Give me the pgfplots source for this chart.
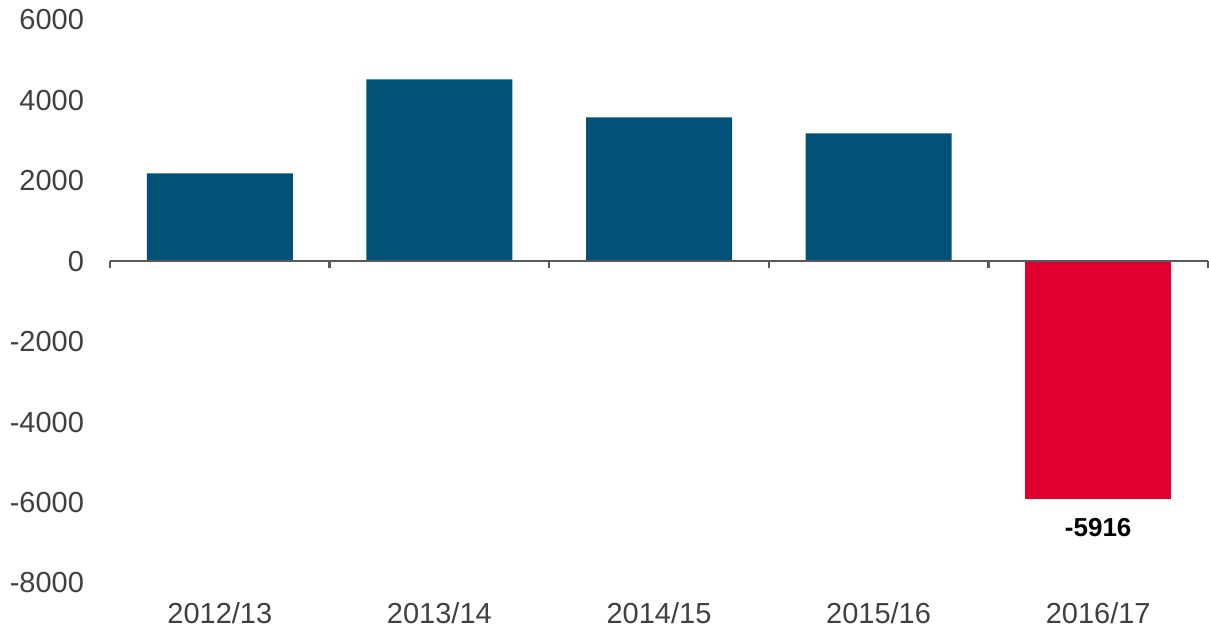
\documentclass[border=0pt]{standalone}
\usepackage{pgfplots}
\pgfplotsset{compat=1.18}
\usepackage{fontspec}
\setmainfont{Liberation Sans}
\definecolor{barblue}{RGB}{2,82,119}
\definecolor{barred}{RGB}{223,0,48}
\definecolor{txtgray}{RGB}{64,64,64}
\definecolor{axgray}{RGB}{89,89,89}
\begin{document}
\begin{tikzpicture}
\begin{axis}[
  scale only axis,
  width=549pt, height=281.5pt,
  xmin=-0.5, xmax=4.5,
  ymin=-8000, ymax=6000,
  axis line style={draw=none},
  xtick={0,1,2,3,4},
  xticklabels={2012/13,2013/14,2014/15,2015/16,2016/17},
  ytick={-8000,-6000,-4000,-2000,0,2000,4000,6000},
  major tick length=0pt,
  tick label style={font=\fontsize{14.5}{16}\selectfont, text=txtgray},
  /pgf/number format/assume math mode=true,
  /pgf/number format/1000 sep={},
  scaled y ticks=false,
  xticklabel style={yshift=-6pt},
  yticklabel style={xshift=-9.5pt},
  ybar, bar width=73pt,
  clip=false,
]
\addplot[fill=barblue, draw=none, bar shift=0pt] coordinates {(0,2186) (1,4522) (2,3578) (3,3180)};
\addplot[fill=barred, draw=none, bar shift=0pt,
  nodes near coords, point meta=explicit symbolic,
  every node near coord/.append style={font=\bfseries\fontsize{13}{15}\selectfont, text=black, anchor=north, yshift=-6pt}]
  coordinates {(4,-5916) [-5916]};
\draw[axgray, line width=1.2pt] (axis cs:-0.5,0) -- (axis cs:4.5,0);
\draw[axgray, line width=1.2pt] (axis cs:-0.5,0) -- ++(0pt,-3.5pt);
\draw[axgray, line width=1.2pt] (axis cs:0.5,0) -- ++(0pt,-3.5pt);
\draw[axgray, line width=1.2pt] (axis cs:1.5,0) -- ++(0pt,-3.5pt);
\draw[axgray, line width=1.2pt] (axis cs:2.5,0) -- ++(0pt,-3.5pt);
\draw[axgray, line width=1.2pt] (axis cs:3.5,0) -- ++(0pt,-3.5pt);
\draw[axgray, line width=1.2pt] (axis cs:4.5,0) -- ++(0pt,-3.5pt);
\end{axis}
\pgfresetboundingbox
\path ([shift={(-55pt,-26pt)}]current axis.south west) rectangle ([shift={(0.5pt,10pt)}]current axis.north east);
\end{tikzpicture}
\end{document}
